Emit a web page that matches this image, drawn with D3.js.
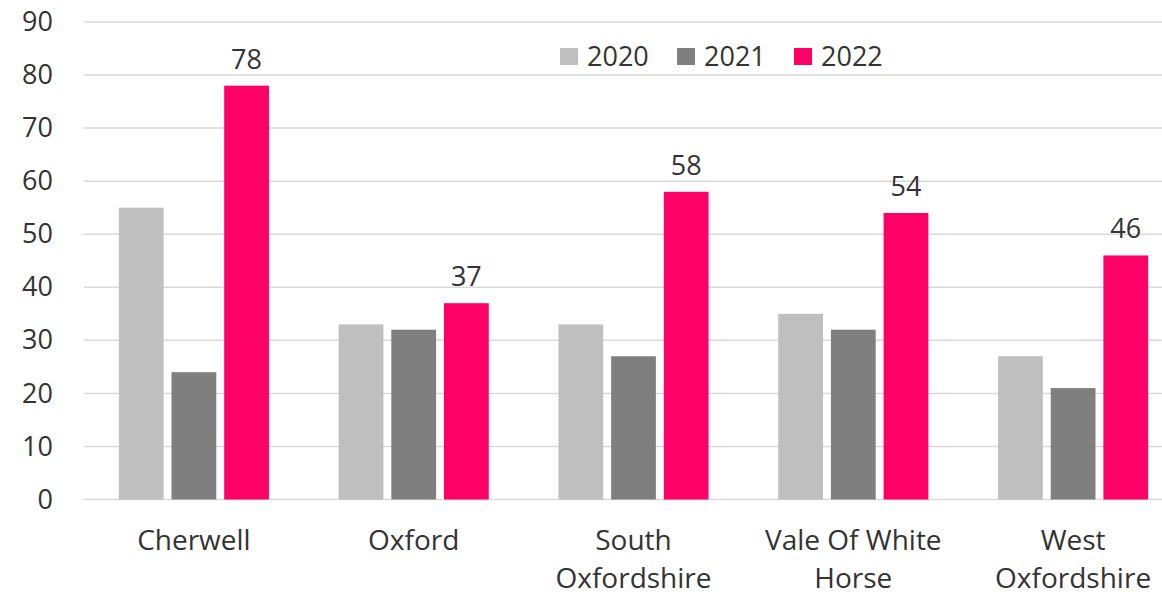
<!DOCTYPE html>
<html><head><meta charset="utf-8">
<script src="https://cdn.jsdelivr.net/npm/d3@7"></script>
<style>html,body{margin:0;padding:0;background:#fff;}svg{display:block;}</style>
</head><body>
<svg id="chart" width="1162" height="596"></svg>
<script>
const categories = [["Cherwell"], ["Oxford"], ["South", "Oxfordshire"], ["Vale Of White", "Horse"], ["West", "Oxfordshire"]];
const seriesNames = ["2020", "2021", "2022"];
const values2020 = [55, 33, 33, 35, 27];
const values2021 = [24, 32, 27, 32, 21];
const values2022 = [78, 37, 58, 54, 46];
const yTicks = [0, 10, 20, 30, 40, 50, 60, 70, 80, 90];
const colors = ["#bfbfbf", "#7f7f7f", "#ff0066"];

const series = [values2020, values2021, values2022];
const svg = d3.select("#chart");
const font = "'Open Sans', sans-serif";
const textColor = "#333333";

const plotLeft = 84, plotRight = 1183, plotTop = 22, plotBottom = 499.5;
const y = d3.scaleLinear().domain([0, 90]).range([plotBottom, plotTop]);
const x0 = d3.scaleBand().domain(d3.range(categories.length)).range([plotLeft, plotRight]).paddingInner(0.317).paddingOuter(0.1585);
const x1 = d3.scaleBand().domain(d3.range(seriesNames.length)).range([0, x0.bandwidth()]).paddingInner(0.15).paddingOuter(0);

// gridlines
svg.append("g").selectAll("line").data(yTicks).join("line")
  .attr("x1", plotLeft).attr("x2", 1162)
  .attr("y1", d => y(d)).attr("y2", d => y(d))
  .attr("stroke", "#d9d9d9").attr("stroke-width", 1.5);

// y axis labels
const yAxis = d3.axisLeft(y).tickValues(yTicks).tickSize(0).tickPadding(0);
const ya = svg.append("g").attr("transform", `translate(53,0)`).call(yAxis);
ya.select(".domain").remove();
ya.selectAll("text").attr("font-family", font).attr("font-size", 27).attr("fill", textColor);

// bars
const groups = svg.append("g").selectAll("g").data(categories).join("g")
  .attr("transform", (d, i) => `translate(${x0(i)},0)`);
groups.selectAll("rect").data((d, i) => series.map((s, j) => ({j, v: s[i]}))).join("rect")
  .attr("x", d => x1(d.j)).attr("width", x1.bandwidth())
  .attr("y", d => y(d.v)).attr("height", d => y(0) - y(d.v))
  .attr("fill", d => colors[d.j]);

// data labels for 2022
groups.append("text")
  .attr("x", x1(2) + x1.bandwidth() / 2)
  .attr("y", (d, i) => y(values2022[i]) - 17)
  .attr("text-anchor", "middle")
  .attr("font-family", font).attr("font-size", 27).attr("fill", textColor)
  .text((d, i) => values2022[i]);

// category labels
categories.forEach((lines, i) => {
  const cx = x0(i) + x0.bandwidth() / 2;
  const t = svg.append("text")
    .attr("x", cx)
    .attr("text-anchor", "middle")
    .attr("font-family", font).attr("font-size", 28).attr("fill", textColor);
  lines.forEach((ln, k) => {
    t.append("tspan").attr("x", cx).attr("y", 550 + k * 38).text(ln);
  });
});

// legend
const legendX = [560, 677, 794];
const lg = svg.append("g").selectAll("g").data(seriesNames).join("g")
  .attr("transform", (d, i) => `translate(${legendX[i]},0)`);
lg.append("rect").attr("x", 0).attr("y", 48).attr("width", 18).attr("height", 17).attr("fill", (d, i) => colors[i]);
lg.append("text").attr("x", 27).attr("y", 66)
  .attr("font-family", font).attr("font-size", 27).attr("fill", textColor)
  .text(d => d);
</script>
</body></html>
